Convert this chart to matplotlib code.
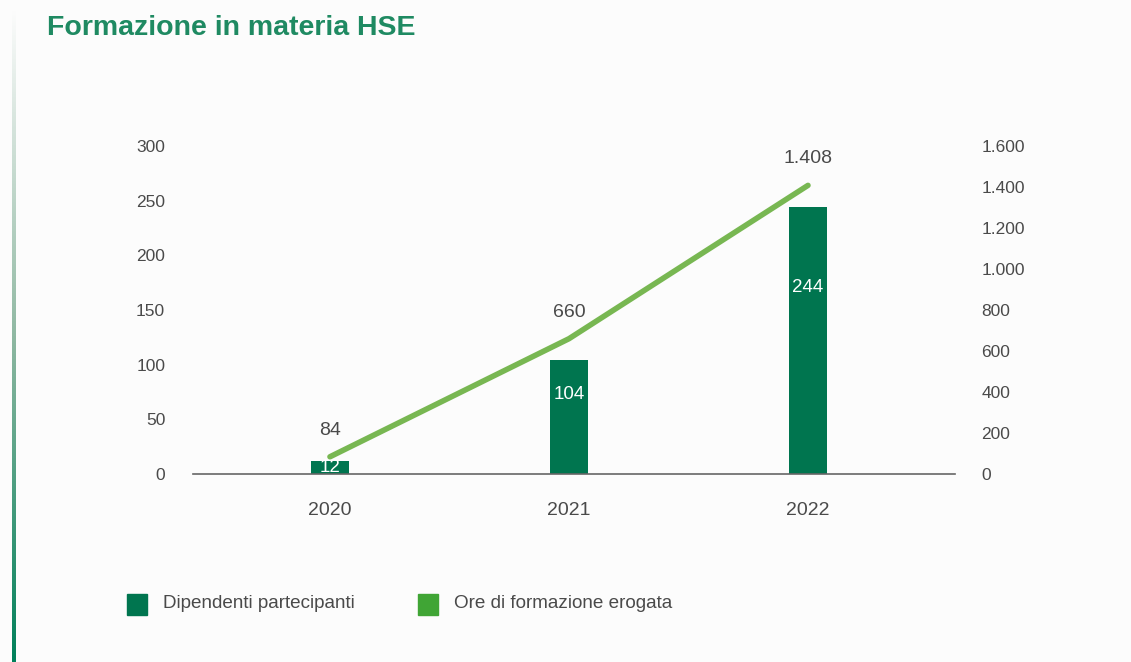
import numpy as np
import matplotlib.pyplot as plt
from matplotlib.patches import Rectangle
from matplotlib.colors import LinearSegmentedColormap

anni = ['2020', '2021', '2022']
dipendenti = [12, 104, 244]
ore = [84, 660, 1408]

verde_scuro = '#00754f'
verde_linea = '#78b752'
verde_legenda = '#40a535'
grigio = '#4a4a4a'

plt.rcParams['font.family'] = ['Liberation Sans', 'DejaVu Sans']


def fmt_it(v):
    return f'{int(v):,}'.replace(',', '.')


fig = plt.figure(figsize=(11.31, 6.62), dpi=100, facecolor='#fcfcfc')

# barra verticale sfumata a sinistra
strip = fig.add_axes([12 / 1131, 0, 4 / 1131, 652 / 662])
grad = np.linspace(0, 1, 256)[:, None]
cm = LinearSegmentedColormap.from_list('strip', ['#fcfcfc', '#8fb8a2', '#00805a'])
strip.imshow(grad, aspect='auto', cmap=cm, origin='upper')
strip.axis('off')

fig.text(47 / 1131, 1 - 28 / 662, 'Formazione in materia HSE', fontsize=20.5,
         fontweight='bold', color='#1f8a62', va='center', ha='left')

ax = fig.add_axes([193 / 1131, 188 / 662, 762 / 1131, 328 / 662])
ax.set_facecolor('none')
x = np.arange(len(anni))
ax.bar(x, dipendenti, width=0.16, color=verde_scuro, zorder=2)
for xi, v in zip(x, dipendenti):
    y = v * 0.7 if v > 50 else v / 2
    ax.text(xi, y, str(v), ha='center', va='center', color='white',
            fontsize=13.5, zorder=3)

ax.set_xlim(-0.573, 2.615)
ax.set_ylim(0, 300)
ax.set_yticks(range(0, 301, 50))
ax.set_xticks(x)
ax.set_xticklabels(anni)
for s in ['top', 'right', 'left']:
    ax.spines[s].set_visible(False)
ax.spines['bottom'].set_color('#666666')
ax.spines['bottom'].set_linewidth(1.2)
ax.tick_params(axis='y', length=0, pad=20, labelsize=12.5, labelcolor=grigio)
ax.tick_params(axis='x', length=0, pad=20, labelsize=14, labelcolor=grigio)

ax2 = ax.twinx()
ax2.plot(x, ore, color=verde_linea, lw=4, solid_capstyle='round', zorder=4)
for xi, v in zip(x, ore):
    ax2.annotate(fmt_it(v), (xi, v), xytext=(0, 13), textcoords='offset points',
                 ha='center', va='bottom', fontsize=14, color=grigio)
ax2.set_ylim(0, 1600)
ax2.set_yticks(range(0, 1601, 200))
ax2.set_yticklabels([fmt_it(t) for t in range(0, 1601, 200)])
for s in ax2.spines.values():
    s.set_visible(False)
ax2.tick_params(axis='y', length=0, pad=19, labelsize=12.5, labelcolor=grigio)

# legenda
for x0, col, lab in [(127, verde_scuro, 'Dipendenti partecipanti'),
                     (418, verde_legenda, 'Ore di formazione erogata')]:
    fig.add_artist(Rectangle((x0 / 1131, 1 - 615 / 662), 20 / 1131, 21 / 662,
                             transform=fig.transFigure, color=col))
    fig.text((x0 + 36) / 1131, 1 - 604 / 662, lab, fontsize=13.6, color=grigio,
             va='center', ha='left')

fig.savefig('out.png', dpi=100, facecolor=fig.get_facecolor())
